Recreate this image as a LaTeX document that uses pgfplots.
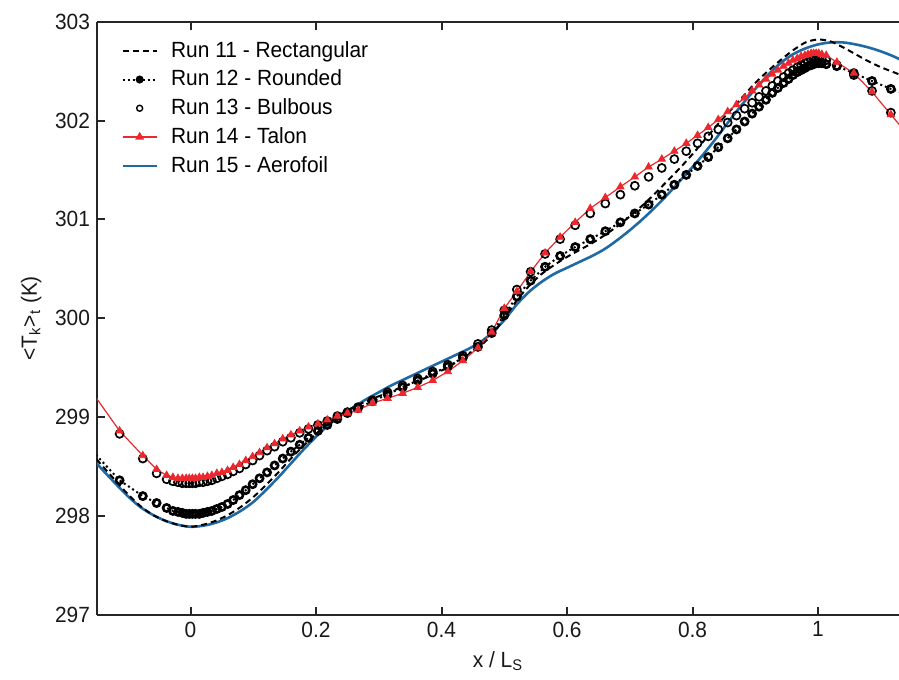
\documentclass[border=0pt]{standalone}
\usepackage{fontspec}
\setmainfont[FakeStretch=0.95]{Liberation Sans}
\usepackage{pgfplots}
\pgfplotsset{compat=1.18}
\usepackage{pgfplotstable}
\definecolor{runred}{RGB}{235,40,45}
\definecolor{runblue}{RGB}{31,105,165}

% Run 11 - Rectangular
\pgfplotstableread{
x y
-0.16 298.65
-0.148 298.56
-0.12 298.36
-0.10 298.22
-0.08 298.10
-0.06 298.01
-0.04 297.95
-0.02 297.91
0.00 297.89
0.02 297.91
0.04 297.95
0.06 298.01
0.08 298.09
0.10 298.19
0.12 298.31
0.14 298.44
0.16 298.58
0.18 298.71
0.20 298.83
0.22 298.94
0.24 299.03
0.26 299.10
0.28 299.16
0.30 299.21
0.32 299.26
0.34 299.31
0.36 299.36
0.38 299.41
0.40 299.47
0.42 299.54
0.44 299.62
0.46 299.71
0.48 299.83
0.50 300.00
0.52 300.18
0.54 300.33
0.56 300.45
0.58 300.54
0.60 300.62
0.62 300.69
0.64 300.76
0.66 300.84
0.68 300.93
0.70 301.03
0.72 301.14
0.74 301.26
0.76 301.39
0.78 301.52
0.80 301.66
0.82 301.81
0.84 301.96
0.86 302.10
0.88 302.24
0.90 302.38
0.92 302.50
0.94 302.61
0.96 302.71
0.98 302.79
1.00 302.82
1.02 302.80
1.04 302.74
1.06 302.67
1.08 302.60
1.10 302.54
1.12 302.49
1.14 302.44
}\runA

% Run 12 - Rounded
\pgfplotstableread{
x y
-0.16 298.70
-0.148 298.60
-0.113 298.36
-0.076 298.20
-0.054 298.13
-0.038 298.08
-0.028 298.05
-0.020 298.04
-0.013 298.03
-0.007 298.02
-0.002 298.02
0.003 298.02
0.008 298.02
0.014 298.02
0.020 298.03
0.027 298.04
0.034 298.05
0.042 298.07
0.050 298.09
0.059 298.12
0.068 298.16
0.078 298.21
0.088 298.26
0.099 298.32
0.110 298.38
0.122 298.44
0.134 298.51
0.147 298.58
0.160 298.65
0.174 298.72
0.188 298.79
0.203 298.86
0.218 298.92
0.234 298.98
0.250 299.04
0.267 299.09
0.290 299.16
0.314 299.23
0.338 299.30
0.362 299.37
0.386 299.44
0.410 299.51
0.434 299.60
0.458 299.71
0.480 299.85
0.500 300.03
0.520 300.22
0.542 300.38
0.565 300.52
0.589 300.63
0.613 300.72
0.637 300.80
0.661 300.88
0.685 300.97
0.708 301.06
0.730 301.15
0.751 301.25
0.771 301.35
0.790 301.45
0.808 301.54
0.825 301.63
0.841 301.73
0.856 301.82
0.870 301.91
0.883 301.99
0.895 302.07
0.906 302.14
0.917 302.21
0.927 302.28
0.936 302.33
0.945 302.38
0.953 302.42
0.960 302.46
0.967 302.49
0.973 302.51
0.979 302.53
0.984 302.55
0.989 302.56
0.993 302.57
0.997 302.58
1.001 302.58
1.006 302.58
1.013 302.57
1.030 302.55
1.057 302.48
1.086 302.40
1.116 302.32
1.140 302.27
}\runB

% Run 13 - Bulbous
\pgfplotstableread{
x y
-0.113 298.83
-0.076 298.58
-0.054 298.43
-0.038 298.37
-0.028 298.35
-0.020 298.34
-0.013 298.33
-0.007 298.33
-0.002 298.33
0.003 298.33
0.008 298.33
0.014 298.34
0.020 298.34
0.027 298.35
0.034 298.36
0.042 298.38
0.050 298.40
0.059 298.42
0.068 298.45
0.078 298.48
0.088 298.52
0.099 298.56
0.110 298.61
0.122 298.66
0.134 298.70
0.147 298.75
0.160 298.79
0.174 298.84
0.188 298.88
0.203 298.92
0.218 298.96
0.234 299.01
0.250 299.05
0.267 299.10
0.290 299.17
0.314 299.25
0.338 299.32
0.362 299.39
0.386 299.46
0.410 299.53
0.434 299.62
0.458 299.74
0.480 299.88
0.500 300.08
0.520 300.29
0.542 300.47
0.565 300.65
0.589 300.80
0.613 300.94
0.637 301.06
0.661 301.16
0.685 301.25
0.708 301.34
0.730 301.43
0.751 301.52
0.771 301.61
0.790 301.69
0.808 301.77
0.825 301.84
0.841 301.91
0.856 301.98
0.870 302.05
0.883 302.12
0.895 302.18
0.906 302.24
0.917 302.30
0.927 302.35
0.936 302.40
0.945 302.44
0.953 302.48
0.960 302.51
0.967 302.54
0.973 302.56
0.979 302.58
0.984 302.60
0.989 302.61
0.993 302.62
0.997 302.62
1.001 302.62
1.006 302.62
1.013 302.61
1.030 302.56
1.057 302.46
1.086 302.30
1.116 302.08
}\runC

% Run 14 - Talon
\pgfplotstableread{
x y
-0.160 299.28
-0.113 298.86
-0.076 298.61
-0.054 298.47
-0.038 298.41
-0.028 298.39
-0.020 298.38
-0.013 298.38
-0.007 298.38
-0.002 298.38
0.003 298.38
0.008 298.38
0.014 298.39
0.020 298.39
0.027 298.40
0.034 298.41
0.042 298.43
0.050 298.44
0.059 298.46
0.068 298.49
0.078 298.52
0.088 298.56
0.099 298.60
0.110 298.64
0.122 298.69
0.134 298.73
0.147 298.78
0.160 298.82
0.174 298.86
0.188 298.90
0.203 298.93
0.218 298.97
0.234 299.01
0.250 299.04
0.267 299.07
0.290 299.14
0.314 299.19
0.338 299.24
0.362 299.30
0.386 299.37
0.410 299.46
0.434 299.57
0.458 299.70
0.480 299.86
0.500 300.10
0.520 300.27
0.542 300.47
0.565 300.66
0.589 300.82
0.613 300.97
0.637 301.11
0.661 301.22
0.685 301.33
0.708 301.43
0.730 301.53
0.751 301.61
0.771 301.69
0.790 301.77
0.808 301.85
0.825 301.93
0.841 302.01
0.856 302.09
0.870 302.16
0.883 302.23
0.895 302.30
0.906 302.36
0.917 302.42
0.927 302.47
0.936 302.51
0.945 302.55
0.953 302.58
0.960 302.61
0.967 302.63
0.973 302.65
0.979 302.66
0.984 302.67
0.989 302.68
0.993 302.68
0.997 302.68
1.001 302.68
1.006 302.67
1.013 302.66
1.030 302.59
1.057 302.48
1.086 302.29
1.116 302.06
1.140 301.88
}\runD

% Run 15 - Aerofoil
\pgfplotstableread{
x y
-0.16 298.62
-0.148 298.52
-0.12 298.33
-0.10 298.20
-0.08 298.09
-0.06 298.01
-0.04 297.95
-0.02 297.91
0.00 297.89
0.02 297.90
0.04 297.93
0.06 297.98
0.08 298.05
0.10 298.14
0.12 298.26
0.14 298.39
0.16 298.53
0.18 298.67
0.20 298.80
0.22 298.92
0.24 299.02
0.26 299.10
0.28 299.18
0.30 299.25
0.32 299.32
0.34 299.38
0.36 299.44
0.38 299.50
0.40 299.56
0.42 299.62
0.44 299.68
0.46 299.75
0.48 299.85
0.50 299.98
0.52 300.14
0.54 300.27
0.56 300.37
0.58 300.45
0.60 300.51
0.62 300.57
0.64 300.63
0.66 300.70
0.68 300.79
0.70 300.89
0.72 301.00
0.74 301.12
0.76 301.25
0.78 301.39
0.80 301.53
0.82 301.68
0.84 301.84
0.86 302.01
0.88 302.17
0.90 302.32
0.92 302.46
0.94 302.58
0.96 302.67
0.98 302.73
1.00 302.77
1.02 302.79
1.04 302.79
1.06 302.77
1.08 302.74
1.10 302.70
1.12 302.65
1.14 302.59
}\runE

\begin{document}
\begin{tikzpicture}
\begin{axis}[
  scale only axis,
  width=401pt, height=296.5pt,
  xmin=-0.149, xmax=1.129,
  ymin=297, ymax=303,
  axis x line*=box, axis y line*=left,
  xtick={0,0.2,0.4,0.6,0.8,1},
  xticklabels={0,0.2,0.4,0.6,0.8,1},
  ytick={297,298,299,300,301,302,303},
  /pgf/number format/assume math mode=true,
  tick label style={font=\fontsize{11}{13}\selectfont, black!90},
  label style={font=\fontsize{11}{13}\selectfont, black!90},
  xlabel={x / L\textsubscript{S}},
  ylabel={<T\textsubscript{k}>\textsubscript{t} (K)},
  axis line style={line width=1pt, black!85},
  major tick style={line width=1pt, black!85},
  major tick length=4pt,
  legend cell align=left,
  legend style={at={(0,1)}, anchor=north west, xshift=9pt, yshift=-6pt,
    draw=none, fill=none, font=\fontsize{11}{13}\selectfont,
    row sep=1.7pt, nodes={inner sep=1.6pt},
    /tikz/every odd column/.append style={column sep=5pt}},
]
\addlegendimage{black, line width=1pt, dash pattern=on 3pt off 2pt}
\addlegendentry{Run 11 - Rectangular}
\addlegendimage{black, line width=1pt, dash pattern=on 1pt off 1.5pt, mark=*, mark size=1.5pt, mark options={solid}}
\addlegendentry{Run 12 - Rounded}
\addlegendimage{only marks, black, mark=o, mark size=1.5pt, mark options={line width=0.7pt}}
\addlegendentry{Run 13 - Bulbous}
\addlegendimage{runred, line width=0.6pt, mark=triangle*, mark size=2pt}
\addlegendentry{Run 14 - Talon}
\addlegendimage{runblue, line width=1.2pt}
\addlegendentry{Run 15 - Aerofoil}

\addplot[forget plot, runblue, line width=1.3pt, smooth] table {\runE};
\addplot[forget plot, black, line width=1pt, dash pattern=on 3pt off 2pt, smooth] table {\runA};
\addplot[forget plot, black, line width=1pt, dash pattern=on 1pt off 1.5pt] table {\runB};
\addplot[forget plot, only marks, black, mark=o, mark size=1.8pt, mark options={line width=1.3pt},
  restrict x to domain=-0.14:1.125] table {\runB};
\addplot[forget plot, only marks, black, mark=o, mark size=2pt, mark options={line width=0.85pt}] table {\runC};
\addplot[forget plot, runred, line width=0.6pt] table {\runD};
\addplot[forget plot, only marks, runred, mark=triangle*, mark size=2.1pt,
  restrict x to domain=-0.14:1.125] table {\runD};
\end{axis}
\pgfresetboundingbox
\path[use as bounding box] (-48.5pt,-32.5pt) rectangle (401pt,307.35pt);
\end{tikzpicture}
\end{document}
